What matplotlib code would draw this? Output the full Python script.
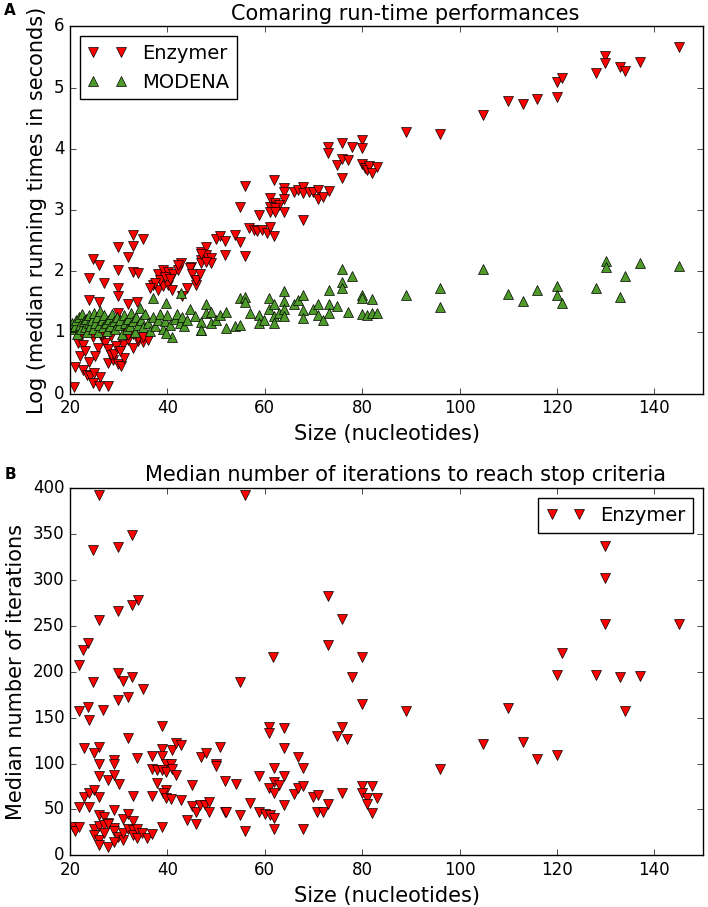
import matplotlib
matplotlib.use("Agg")
import matplotlib.pyplot as plt

plt.style.use("classic")
plt.rcParams["font.family"] = ["DejaVu Sans"]

# ---- panel A: log run times ----
enz_x = [21.0, 22.7, 23.5, 24.2, 20.8, 24.7, 26.0, 27.7, 22.2, 21.6, 22.6, 22.0, 23.9, 24.9, 26.1,
         25.7, 26.6, 27.2, 27.8, 27.8, 28.8, 28.4, 30.9, 31.9, 32.9, 33.9, 34.9, 36.0, 24.7, 26.5,
         28.4, 29.0, 29.8, 30.5, 31.0, 29.5, 30.2, 25.2, 23.0, 32.0, 33.0, 34.0, 35.0, 31.0, 24.0,
         22.5, 26.0, 28.0,
         33.0, 35.0, 29.8, 32.9, 31.9, 24.8, 25.9, 29.8, 32.9, 33.9, 23.9, 26.9, 29.8, 29.8, 23.9,
         25.9, 31.9, 33.8, 29.8,
         38.1, 39.1, 40.1, 41.1, 42.1, 37.0, 38.0, 39.0, 40.1, 41.0, 42.8, 42.1, 44.9, 45.9, 45.9,
         47.0, 47.0, 48.0, 38.5, 39.5, 40.5, 37.5, 36.5, 44.0, 43.0,
         44.6, 45.0, 45.8, 46.7, 47.0, 48.0, 48.9, 50.0, 50.9, 51.8, 48.9, 47.9, 46.9, 51.8, 53.9,
         54.9, 55.9, 55.9, 54.9, 56.8, 57.8, 58.5, 59.5, 60.5, 61.0, 61.9, 58.8, 61.9, 64.0, 64.0,
         64.0, 61.0, 62.0, 61.0, 63.0, 62.0, 61.0, 64.0, 62.0,
         65.9, 66.9, 67.9, 67.9, 69.0, 70.0, 71.0, 71.0, 72.0, 73.1, 67.9, 72.9, 72.9, 74.9, 75.9,
         77.0, 75.9, 75.9, 78.0, 79.9, 79.9, 80.0, 80.5, 81.0, 81.5, 82.0, 83.0,
         89.0, 96.0, 104.9, 110.0, 113.0, 116.0, 120.0, 120.0, 121.0, 128.0, 129.9, 129.9, 133.0,
         134.0, 137.0, 145.0]
enz_y = [0.44, 0.38, 0.31, 0.28, 0.11, 0.17, 0.12, 0.12, 0.99, 0.82, 0.80, 0.61, 0.52, 0.33, 0.27,
         0.75, 0.90, 0.82, 0.72, 0.50, 0.55, 0.63, 0.80, 0.87, 0.75, 0.86, 0.85, 0.87, 0.93, 0.95,
         0.94, 0.65, 0.48, 0.45, 0.58, 0.78, 0.70, 0.62, 0.70, 0.95, 0.98, 0.90, 0.92, 1.02, 1.05,
         1.08, 1.05, 1.02,
         2.59, 2.52, 2.40, 2.41, 2.24, 2.20, 2.10, 2.02, 1.99, 1.97, 1.89, 1.81, 1.72, 1.59, 1.53,
         1.50, 1.47, 1.49, 1.31,
         1.96, 2.02, 1.99, 1.96, 2.02, 1.77, 1.69, 1.75, 1.77, 1.69, 2.13, 2.10, 2.07, 1.86, 1.78,
         2.32, 2.18, 2.40, 1.85, 1.90, 1.88, 1.80, 1.72, 1.72, 1.60,
         2.05, 1.95, 1.85, 1.95, 2.13, 2.26, 2.22, 2.53, 2.57, 2.50, 2.13, 2.15, 2.28, 2.26, 2.59,
         2.48, 2.25, 3.39, 3.05, 2.70, 2.67, 2.65, 2.68, 2.62, 2.72, 2.57, 2.92, 3.49, 3.36, 3.29,
         3.18, 3.20, 3.12, 3.05, 3.08, 3.03, 2.96, 2.96, 2.96,
         3.30, 3.32, 3.38, 3.28, 3.30, 3.30, 3.33, 3.18, 3.21, 3.31, 2.84, 4.03, 3.93, 3.74, 3.83,
         3.82, 4.10, 3.52, 4.03, 4.14, 4.02, 3.75, 3.68, 3.65, 3.72, 3.60, 3.70,
         4.28, 4.24, 4.56, 4.79, 4.74, 4.82, 4.84, 5.10, 5.15, 5.24, 5.51, 5.40, 5.34,
         5.27, 5.42, 5.66]

mod_x = [20.3, 20.5, 21.0, 21.2, 21.5, 21.8, 22.0, 22.3, 22.5, 22.8, 23.0, 23.2, 23.5, 23.8, 24.0,
         24.2, 24.5, 24.8, 25.0, 25.2, 25.5, 25.8, 26.0, 26.2, 26.5, 26.8, 27.0, 27.3, 27.6, 28.0,
         28.3, 28.6, 29.0, 29.3, 29.6, 30.0, 30.3, 30.6, 31.0, 31.3, 31.6, 32.0, 32.3, 32.6, 33.0,
         33.3, 33.6, 34.0, 34.3, 34.6, 35.0, 35.5, 36.0, 36.5, 37.0, 37.0, 37.5, 38.0, 38.5, 39.0,
         39.7, 39.5, 40.0, 40.5, 41.0, 41.5, 42.0, 42.8, 42.5, 43.0, 43.5, 44.0, 39.8, 47.0,
         44.6, 45.7, 46.9, 46.9, 48.0, 48.0, 48.9, 48.9, 50.0, 50.9, 52.0, 52.0, 53.9, 54.9, 54.9,
         55.9, 55.9, 57.0, 58.9, 58.9, 59.8, 60.9, 60.9, 61.9, 61.9, 61.9, 62.9, 63.9, 63.9, 63.9,
         63.9, 65.9, 66.9,
         67.9, 67.9, 67.9, 70.0, 71.0, 71.0, 72.0, 73.1, 73.1, 73.1, 74.9, 75.9, 75.9, 75.9, 77.0,
         78.0, 79.9, 79.9, 79.9, 80.9, 82.0, 82.0, 83.0,
         89.0, 96.0, 96.0, 104.9, 110.0, 113.0, 116.0, 120.0, 120.0, 121.0, 128.0, 130.0, 130.0,
         133.0, 134.0, 137.0, 145.0]
mod_y = [1.05, 1.15, 1.10, 1.20, 0.98, 1.25, 1.12, 1.05, 1.30, 1.18, 1.08, 1.22, 1.00, 1.15, 1.28,
         1.10, 1.20, 1.05, 1.32, 1.15, 1.25, 1.00, 1.12, 1.35, 1.20, 1.08, 1.28, 1.15, 1.02, 1.22,
         1.10, 1.30, 1.18, 1.05, 1.25, 1.12, 1.20, 0.98, 1.28, 1.15, 1.05, 1.22, 1.10, 1.32, 1.18,
         1.00, 1.25, 1.12, 1.40, 1.20, 1.08, 1.30, 1.15, 1.02, 1.56, 1.25, 1.10, 1.20, 1.30, 1.05,
         1.48, 1.18, 1.28, 1.12, 0.92, 1.22, 1.30, 1.64, 1.15, 1.25, 1.10, 1.20, 0.99, 1.04,
         1.39, 1.26, 1.17, 1.04, 1.46, 1.31, 1.34, 1.15, 1.20, 1.28, 1.34, 1.07, 1.10, 1.12, 1.56,
         1.58, 1.50, 1.32, 1.28, 1.15, 1.20, 1.56, 1.38, 1.47, 1.27, 1.15, 1.31, 1.68, 1.51, 1.39,
         1.27, 1.47, 1.53,
         1.61, 1.36, 1.23, 1.39, 1.46, 1.28, 1.20, 1.69, 1.46, 1.31, 1.43, 2.03, 1.83, 1.72, 1.34,
         1.92, 1.61, 1.56, 1.30, 1.28, 1.54, 1.32, 1.32,
         1.61, 1.72, 1.41, 2.03, 1.63, 1.52, 1.69, 1.75, 1.61, 1.48, 1.72, 2.17, 2.07,
         1.58, 1.92, 2.14, 2.09]

# ---- panel B: iterations ----
it_x = [26.0, 55.9, 32.8, 24.7, 29.9, 33.9, 32.8, 29.9, 26.0, 23.7, 22.7, 21.9, 29.9, 30.9, 32.8,
        24.7, 34.9, 31.9, 29.9, 21.9, 23.7, 26.8, 23.9, 54.9, 61.7, 38.8, 31.9,
        72.9, 75.9, 72.9, 79.9, 77.9, 89.0, 96.0, 104.9, 110.0, 113.0, 116.0, 120.0, 120.0, 121.0,
        128.0, 129.9, 129.9, 129.9, 133.0, 134.0, 137.0, 145.0,
        22.8, 25.9, 24.9, 25.9, 29.0, 29.0, 33.8, 36.8, 38.9, 38.9, 40.9, 41.8, 42.8, 47.0, 47.9,
        50.9, 49.9, 49.9, 51.8, 39.8, 40.8, 36.8, 37.9, 38.9, 39.8, 40.9, 41.8, 25.9, 27.9, 29.0,
        30.0, 37.9, 39.8, 39.0, 32.9, 36.8, 39.8, 40.8, 42.8, 45.0, 22.8, 23.9, 24.9, 25.9, 21.9,
        23.9, 29.0, 25.9, 26.9, 27.9, 29.0, 30.9, 31.9, 32.9, 45.0, 45.9, 46.7, 47.7, 48.6, 48.6,
        51.8, 44.0, 45.9, 38.9, 20.6, 21.0, 21.9, 24.9, 25.9, 26.9, 27.9, 24.9, 25.9, 25.9, 27.9,
        26.9, 29.0, 29.8, 30.9, 30.9, 31.9, 32.9, 32.9, 33.8, 33.8, 34.8, 35.8, 36.8, 29.0,
        54.0, 52.0, 54.9, 55.9, 57.0, 58.9, 58.9, 60.0, 61.0, 61.9, 60.9, 60.9, 63.9, 63.9, 61.9,
        61.9, 62.9, 60.9, 61.9, 63.9, 63.9, 61.9, 66.0, 66.9, 67.9, 66.9, 67.9, 70.0, 71.0, 70.8,
        71.9, 72.9, 67.9, 74.9, 75.9, 76.9, 75.9, 80.0, 80.0, 82.0, 80.0, 81.0, 83.0, 81.0, 82.0]
it_y = [393, 393, 349, 333, 336, 278, 273, 266, 257, 231, 224, 207, 199, 190, 194,
        189, 181, 173, 169, 157, 162, 158, 147, 189, 216, 141, 128,
        283, 258, 229, 216, 194, 157, 94, 121, 161, 124, 105, 109, 196, 221,
        197, 337, 302, 252, 194, 157, 195, 252,
        117, 118, 111, 99, 104, 99, 106, 108, 116, 108, 115, 122, 120, 107, 111,
        118, 100, 97, 81, 100, 100, 94, 93, 93, 91, 94, 88, 86, 82, 87,
        78, 79, 71, 68, 65, 65, 62, 61, 60, 77, 64, 68, 71, 64, 53,
        53, 49, 44, 42, 35, 30, 40, 45, 37, 54, 47, 55, 55, 58, 47,
        47, 39, 34, 31, 31, 26, 31, 29, 32, 33, 34, 22, 17, 11, 9.5,
        24, 26, 20, 17, 24, 29, 28, 22, 29, 19, 24, 19, 23, 15,
        78, 47, 44, 27, 57, 86, 47, 45, 44, 41, 140, 133, 139, 117, 95,
        80, 77, 73, 68, 86, 55, 29, 67, 73, 75, 107, 95, 64, 66, 47,
        47, 56, 29, 130, 140, 127, 68, 165, 76, 76, 68, 63, 62, 56, 46]

red = "#FF0000"
green = "#4E9A2A"
mk = dict(linestyle="none", markersize=7.5, markeredgecolor="black", markeredgewidth=0.5)

fig = plt.figure(figsize=(7.08, 9.07), dpi=100, facecolor="white")

ax1 = fig.add_axes([0.0989, 0.5661, 0.8941, 0.4047])
ax1.plot(enz_x, enz_y, marker="v", color=red, label="Enzymer", **mk)
ax1.plot(mod_x, mod_y, marker="^", color=green, label="MODENA", **mk)
ax1.set_xlim(20, 150)
ax1.set_ylim(0, 6)
ax1.set_xticks([20, 40, 60, 80, 100, 120, 140])
ax1.set_yticks([0, 1, 2, 3, 4, 5, 6])
ax1.set_title("Comaring run-time performances", fontsize=15, x=0.53)
ax1.set_xlabel("Size (nucleotides)", fontsize=15)
ax1.set_ylabel("Log (median running times in seconds)", fontsize=15)
ax1.legend(loc="upper left", numpoints=2, fontsize=14)

ax2 = fig.add_axes([0.0989, 0.0570, 0.8941, 0.4046])
ax2.plot(it_x, it_y, marker="v", color=red, label="Enzymer", **mk)
ax2.set_xlim(20, 150)
ax2.set_ylim(0, 400)
ax2.set_xticks([20, 40, 60, 80, 100, 120, 140])
ax2.set_yticks(range(0, 401, 50))
ax2.set_title("Median number of iterations to reach stop criteria", fontsize=15, x=0.53)
ax2.set_xlabel("Size (nucleotides)", fontsize=15)
ax2.set_ylabel("Median number of iterations", fontsize=15)
ax2.legend(loc="upper right", numpoints=2, fontsize=14)

for ax in (ax1, ax2):
    ax.tick_params(labelsize=12)

fig.text(0.006, 0.988, "A", fontsize=11, fontweight="bold", va="center")
fig.text(0.006, 0.4763, "B", fontsize=11, fontweight="bold", va="center")

fig.savefig("out.png", dpi=100, facecolor="white")
